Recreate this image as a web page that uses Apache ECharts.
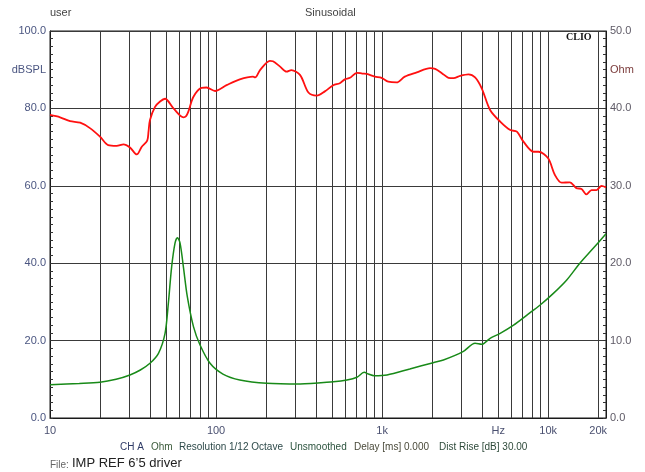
<!DOCTYPE html>
<html>
<head>
<meta charset="utf-8">
<script src="https://cdn.jsdelivr.net/npm/echarts@6/dist/echarts.min.js"></script>
<style>
html,body{margin:0;padding:0;background:#fff;}
#c{width:645px;height:472px;}
</style>
</head>
<body>
<div id="c"></div>
<script>
// SPL response (dBSPL, left axis)
var splFreq = [10,11.5,13.2,15.2,17.4,20,22.4,25.2,27.7,30.3,33.3,35.7,38.5,39.2,40,42.9,46,49.3,55.4,63.6,66,68,73.1,81.7,87.6,98.6,115.7,139,167,172,184,211,220,243,266,284,321,360,404,452,508,556,596,640,705,760,808,905,992,1090,1222,1370,1617,1944,2087,2290,2511,2693,2950,3310,3630,3980,4470,5140,5920,6480,7100,8160,8750,10000,10980,12050,13500,14800,15880,17000,18240,19560,20970,22300];
var splValues = [78.3,77.7,76.7,76.3,74.9,72.7,70.5,70.3,70.7,69.9,68.1,70.1,71.7,74.0,77.0,80.4,81.8,82.5,80.0,77.7,78.0,79.1,83.0,85.3,85.4,84.5,86.0,87.5,88.2,88.0,89.9,92.3,92.2,90.8,89.5,89.9,88.6,84.1,83.3,84.4,86.0,86.5,87.5,87.9,89.2,89.0,88.9,88.2,87.9,86.9,86.7,88.2,89.3,90.4,90.2,89.1,87.9,87.8,88.4,88.8,88.0,85.2,79.6,76.6,74.4,74.0,71.4,68.8,68.8,67.1,62.8,60.8,60.9,59.4,59.2,57.8,58.9,58.9,60.0,59.6];

// Impedance (Ohm, right axis)
var impFreq = [10,15,20,25,30.3,35,40,45,49.3,51.6,54,56.6,58.5,60.7,63.6,67.1,73.1,80.1,92,110,139,202,321,508,614,705,780,828,895,1070,1468,2030,2340,3070,3630,3980,4470,5140,6190,7450,8950,10750,12900,15520,18620,22300];
var impValues = [4.3,4.45,4.61,5.0,5.56,6.2,7.07,8.36,10.94,14.8,19.5,22.6,23.3,22.6,19.5,15.7,11.8,9.43,7.07,5.68,4.91,4.48,4.39,4.69,4.91,5.26,5.90,5.68,5.47,5.56,6.33,7.15,7.49,8.57,9.65,9.52,10.3,10.94,12.0,13.3,14.6,16.1,17.8,20.0,21.9,23.8];

// vertical grid lines (Hz)
var gridFreqs = [20,30,40,50,60,70,80,90,100,200,300,400,500,600,700,800,900,1000,2000,3000,4000,5000,6000,7000,8000,9000,10000,20000];
// x tick labels
var xTickValues = [10,100,1000,5000,10000,20000];
var xTickLabels = ['10','100','1k','Hz','10k','20k'];
// y tick labels
var leftTickValues = [0,20,40,60,80,90,100];
var rightTickValues = [0,10,20,30,40,45,50];

function zip(a,b){var r=[];for(var i=0;i<a.length;i++)r.push([a[i],b[i]]);return r;}

var chart = echarts.init(document.getElementById('c'), null, {renderer:'canvas'});
var font = 'Liberation Sans, Arial, sans-serif';
var gridColor = '#3a3a3a';

var option = {
  animation: false,
  grid: {left:50, top:31, right:39, bottom:54, show:true, borderColor:'#1a1a1a', borderWidth:1, backgroundColor:'#fff'},
  xAxis: {
    type:'log', logBase:10, min:10, max:22300,
    axisLine:{show:true, lineStyle:{color:'#1a1a1a', width:1}},
    axisTick:{show:false},
    splitLine:{show:false},
    axisLabel:{
      customValues: xTickValues,
      margin:7,
      color:'#4a5070', fontSize:11, fontFamily:font,
      formatter:function(v){var i=-1; for(var k=0;k<xTickValues.length;k++){if(Math.abs(xTickValues[k]-v)/v<0.01)i=k;} return i>=0?xTickLabels[i]:'';}
    }
  },
  yAxis: [{
    type:'value', min:0, max:100, interval:20, position:'left',
    axisLine:{show:true, lineStyle:{color:'#1a1a1a'}},
    axisTick:{show:true, inside:true, length:3, lineStyle:{color:'#333'}},
    minorTick:{show:true, splitNumber:10, length:3, lineStyle:{color:'#333'}},
    splitLine:{show:true, lineStyle:{color:gridColor, width:1}},
    axisLabel:{
      customValues: leftTickValues,
      margin:4, color:'#4a5580', fontSize:11, fontFamily:font,
      formatter:function(v){return v===90?'dBSPL':v.toFixed(1);}
    }
  },{
    type:'value', min:0, max:50, interval:10, position:'right',
    axisLine:{show:true, lineStyle:{color:'#1a1a1a'}},
    axisTick:{show:true, inside:true, length:3, lineStyle:{color:'#333'}},
    minorTick:{show:true, splitNumber:10, length:3, lineStyle:{color:'#333'}},
    splitLine:{show:false},
    axisLabel:{
      customValues: rightTickValues,
      margin:4, color:'#5e5a66', fontSize:11, fontFamily:font,
      formatter:function(v){return v===45?'{o|Ohm}':v.toFixed(1);},
      rich:{o:{color:'#7a3a3a', fontSize:11, fontFamily:font}}
    }
  }],
  series: [{
    type:'line', name:'SPL', yAxisIndex:0,
    data: zip(splFreq, splValues),
    showSymbol:false, smooth:0.3,
    lineStyle:{color:'#ff1010', width:1.8},
    z:5,
    markLine:{
      silent:true, symbol:['none','none'], label:{show:false},
      lineStyle:{type:'solid', color:gridColor, width:1},
      z:1,
      data: gridFreqs.map(function(f){return {xAxis:f};})
    }
  },{
    type:'line', name:'Impedance', yAxisIndex:1,
    data: zip(impFreq, impValues),
    showSymbol:false, smooth:0.3,
    lineStyle:{color:'#188a18', width:1.5},
    z:4
  }],
  graphic: [
    {type:'text', left:50, top:7, style:{text:'user', fill:'#444', font:'11px '+font}},
    {type:'text', left:305, top:7, style:{text:'Sinusoidal', fill:'#444', font:'11px '+font}},
    {type:'text', left:566, top:32, style:{text:'CLIO', fill:'#111', font:'bold 10px "Liberation Serif", "DejaVu Serif", serif'}},
    {type:'text', left:120, top:442, style:{text:'CH A', fill:'#2e3a66', font:'10px '+font}},
    {type:'text', left:151, top:442, style:{text:'Ohm', fill:'#3a5a3a', font:'10px '+font}},
    {type:'text', left:179, top:442, style:{text:'Resolution 1/12 Octave', fill:'#2e4a4a', font:'10px '+font}},
    {type:'text', left:290, top:442, style:{text:'Unsmoothed', fill:'#2e5540', font:'10px '+font}},
    {type:'text', left:354, top:442, style:{text:'Delay [ms] 0.000', fill:'#4a4a3a', font:'10px '+font}},
    {type:'text', left:439, top:442, style:{text:'Dist Rise [dB] 30.00', fill:'#2e4a3a', font:'10px '+font}},
    {type:'text', left:50, top:460, style:{text:'File:', fill:'#666', font:'10px '+font}},
    {type:'text', left:72, top:457, style:{text:'IMP REF 6\u20195 driver', fill:'#222', font:'13px '+font}}
  ]
};
chart.setOption(option);
</script>
</body>
</html>
